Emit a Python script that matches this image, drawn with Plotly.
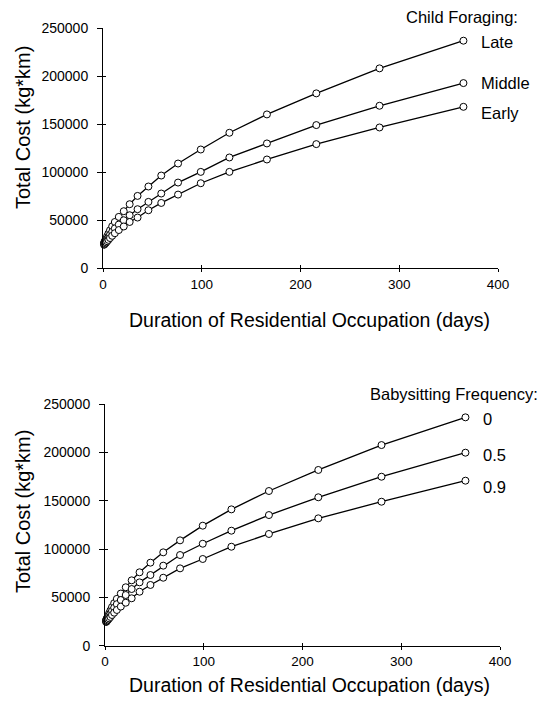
import plotly.graph_objects as go

# ---- data ----
days = [1.1, 1.5, 1.9, 2.5, 3.3, 4.2, 5.5, 7.1, 9.3, 12, 16, 21, 27, 35, 46, 59, 76, 99, 128, 166, 216, 280, 365]

forage_late = [26500, 27200, 28200, 29500, 31000, 33300, 36100, 39600, 43700, 48200, 53500, 59400, 66700,
               75300, 85100, 96500, 109000, 123600, 141000, 160100, 182000, 208000, 236800]
forage_middle = [25400, 26000, 26800, 27800, 29000, 30500, 32500, 35000, 38000, 41500, 45500, 50000, 55200,
                 61500, 69100, 77800, 89200, 100300, 115300, 129900, 149000, 169100, 192700]
forage_early = [24500, 24900, 25400, 26100, 27000, 28200, 29600, 31500, 33800, 36500, 39800, 43500, 48200,
                52800, 60400, 68000, 76700, 88500, 100300, 113200, 129200, 146500, 168000]

baby_0 = [26500, 27300, 28300, 29600, 31300, 33600, 36500, 40000, 44000, 48500, 54000, 60500, 67700,
          76000, 86000, 96700, 109100, 124300, 141200, 160200, 182000, 207800, 236500]
baby_05 = [25500, 26200, 27000, 28000, 29300, 31000, 33300, 36000, 39300, 43000, 47300, 52500, 58700,
           65600, 73200, 82900, 93900, 105600, 119100, 135300, 153700, 175000, 199900]
baby_09 = [24600, 25000, 25500, 26200, 27100, 28300, 29800, 31800, 34200, 37000, 40500, 44500, 49100,
           55900, 62900, 70400, 80100, 89800, 102500, 115700, 131900, 149100, 170900]

top_names = ["Late", "Middle", "Early"]
top_series = [forage_late, forage_middle, forage_early]
bot_names = ["0", "0.5", "0.9"]
bot_series = [baby_0, baby_05, baby_09]

top_header = "Child Foraging:"
bot_header = "Babysitting Frequency:"
x_title = "Duration of Residential Occupation (days)"
y_title = "Total Cost (kg*km)"

x_ticks = [0, 100, 200, 300, 400]
x_ticklabels = ["0", "100", "200", "300", "400"]
y_ticks = [0, 50000, 100000, 150000, 200000, 250000]
y_ticklabels = ["0", "50000", "100000", "150000", "200000", "250000"]

# ---- style ----
FONT = "Liberation Sans, Arial, Helvetica, sans-serif"
PAGE_MARGIN = 8  # default body margin of the html page
W, H = 545 - PAGE_MARGIN, 706 - 2 * PAGE_MARGIN

def px(xp):
    return (xp - PAGE_MARGIN) / W

def py(yp):
    return 1 - (yp - PAGE_MARGIN) / H

fig = go.Figure()

def add_series(names, series, xa, ya):
    for nm, ys in zip(names, series):
        fig.add_trace(go.Scatter(
            x=days, y=ys, name=nm, mode="lines+markers", xaxis=xa, yaxis=ya,
            line=dict(color="black", width=1.3),
            marker=dict(symbol="circle", size=7, color="white",
                        line=dict(color="black", width=1)),
            cliponaxis=False, showlegend=False))

add_series(top_names, top_series, "x", "y")
add_series(bot_names, bot_series, "x2", "y2")

top_xdom = [px(103), px(498)]
top_ydom = [py(268.3), py(28)]
bot_xdom = [px(105), px(500)]
bot_ydom = [py(645.7), py(404.3)]

def xaxis(dom, anchor):
    return dict(domain=dom, anchor=anchor, range=[0, 400], tickvals=x_ticks, ticktext=x_ticklabels,
                automargin=False,
                showgrid=False, zeroline=False, showline=True, linecolor="black", linewidth=1,
                ticks="outside", ticklen=3, tickwidth=1, tickcolor="black",
                tickfont=dict(family=FONT, size=13.5, color="black"))

def yaxis(dom, anchor):
    return dict(domain=dom, anchor=anchor, range=[0, 250000], tickvals=y_ticks, ticktext=y_ticklabels,
                automargin=False,
                showgrid=False, zeroline=False, showline=True, linecolor="black", linewidth=1,
                ticks="outside", ticklen=5, tickwidth=1, tickcolor="black",
                ticklabelstandoff=6,
                tickfont=dict(family=FONT, size=14, color="black"))

def over(base, anchor, vals):
    return dict(overlaying=base, matches=base, anchor=anchor, tickvals=vals, automargin=False,
                showgrid=False, zeroline=False, showline=False, showticklabels=False,
                ticks="inside", ticklen=3, tickwidth=1, tickcolor="black")

fig.update_layout(
    template="none",
    width=W, height=H, margin=dict(l=0, r=0, t=0, b=0, pad=0, autoexpand=False),
    paper_bgcolor="white", plot_bgcolor="white",
    xaxis=xaxis(top_xdom, "y"), yaxis=yaxis(top_ydom, "x"),
    xaxis2=xaxis(bot_xdom, "y2"), yaxis2=yaxis(bot_ydom, "x2"),
    xaxis3=over("x", "y", x_ticks), yaxis3=dict(over("y", "x", y_ticks), side="left"),
    xaxis4=over("x2", "y2", x_ticks), yaxis4=dict(over("y2", "x2", y_ticks), side="left"),
)

# empty traces so the overlay (tick-crossing) axes render
fig.add_trace(go.Scatter(x=[None], y=[None], xaxis="x3", yaxis="y3", showlegend=False))
fig.add_trace(go.Scatter(x=[None], y=[None], xaxis="x4", yaxis="y4", showlegend=False))

ann = []
def t(text, x, y, size, xanchor="center", yanchor="middle", angle=0, xref="paper", yref="paper",
      xshift=0, yshift=0):
    ann.append(dict(text=text, x=x, y=y, xref=xref, yref=yref, xanchor=xanchor, yanchor=yanchor,
                    textangle=angle, showarrow=False, xshift=xshift, yshift=yshift,
                    font=dict(family=FONT, size=size, color="black")))

# axis titles
t(y_title, px(23), py(128), 20, angle=-90)
t(y_title, px(23), py(512), 20, angle=-90)
t(x_title, px(309), py(320), 19.5)
t(x_title, px(309), 0, 19.5, yanchor="bottom")

# legend headers
t(top_header, px(462), py(17), 16.5)
t(bot_header, px(540), py(394), 16.5, xanchor="right")

# series labels
top_shift = [-1, 0, -6]
for nm, ys, sh in zip(top_names, top_series, top_shift):
    t(nm, days[-1], ys[-1], 16.5, xanchor="left", xref="x", yref="y", xshift=16, yshift=sh)
bot_shift = [-2, -2, -6]
for nm, ys, sh in zip(bot_names, bot_series, bot_shift):
    t(nm, days[-1], ys[-1], 16.5, xanchor="left", xref="x2", yref="y2", xshift=16, yshift=sh)

fig.update_layout(annotations=ann)

fig.write_html("out.html")
